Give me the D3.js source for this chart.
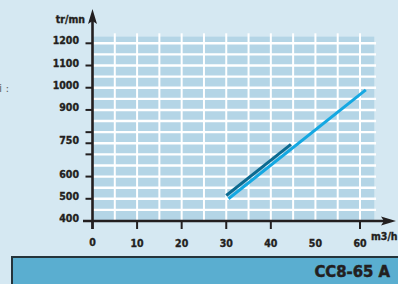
<!DOCTYPE html>
<html>
<head>
<meta charset="utf-8">
<script src="https://cdn.jsdelivr.net/npm/d3@7"></script>
<style>
    body { margin: 0; background: #d5e8f2; }
    svg { display: block; }
    .lbl { font-family: "DejaVu Sans Condensed", "DejaVu Sans", sans-serif; font-weight: bold; fill: #231f20; stroke: #231f20; stroke-width: 0.35; }
</style>
</head>
<body>
<svg id="chart" width="398" height="284"></svg>
<script>
// chart data
var xLabels = [0, 10, 20, 30, 40, 50, 60];
var xTickMarks = [0, 10, 20, 30, 40, 60];
var yLabels = [400, 500, 600, 750, 900, 1000, 1100, 1200];
var yTickMarks = [500, 600, 700, 750, 800, 900, 1000, 1100, 1200];
var gridX = [5, 10, 15, 20, 25, 30, 35, 40, 45, 50, 55, 60];
var gridY = [450, 500, 550, 600, 650, 700, 750, 800, 850, 900, 950, 1000, 1050, 1100, 1150, 1200];
var darkFlow = [30, 44.5];
var darkSpeed = [515, 745];
var lightFlow = [30.5, 61.3];
var lightSpeed = [500, 990];

(function () {
    var svg = d3.select('#chart');
    var ink = '#231f20';

    var x = d3.scaleLinear().domain([0, 60]).range([92.5, 360]);
    var y = d3.scaleLinear().domain([400, 1200]).range([221, 43.3]);

    // background panel of the grid
    svg.append('rect')
        .attr('x', x(0))
        .attr('y', y(1230))
        .attr('width', x(63.2) - x(0))
        .attr('height', y(400) - y(1230))
        .attr('fill', '#b4d5e6');

    // white grid
    svg.append('g').selectAll('line')
        .data(gridY)
        .enter().append('line')
        .attr('x1', x(0)).attr('x2', x(63.6))
        .attr('y1', function (d) { return y(d); })
        .attr('y2', function (d) { return y(d); })
        .attr('stroke', '#fff').attr('stroke-width', 2.4);

    svg.append('g').selectAll('line')
        .data(gridX)
        .enter().append('line')
        .attr('x1', function (d) { return x(d); })
        .attr('x2', function (d) { return x(d); })
        .attr('y1', y(1245)).attr('y2', y(400))
        .attr('stroke', '#fff').attr('stroke-width', 2);

    // curves
    var line = d3.line()
        .x(function (d) { return x(d[0]); })
        .y(function (d) { return y(d[1]); });

    svg.append('path')
        .datum(d3.zip(darkFlow, darkSpeed))
        .attr('d', line)
        .attr('fill', 'none').attr('stroke', '#0c6a90').attr('stroke-width', 3);

    svg.append('path')
        .datum(d3.zip(lightFlow, lightSpeed))
        .attr('d', line)
        .attr('fill', 'none').attr('stroke', '#14a8e2').attr('stroke-width', 3);

    // axes
    svg.append('line')
        .attr('x1', x(0)).attr('x2', x(0))
        .attr('y1', 20).attr('y2', y(400) + 8)
        .attr('stroke', ink).attr('stroke-width', 2.6);
    svg.append('path')
        .attr('d', 'M' + x(0) + ',9 L' + (x(0) + 4.5) + ',24 L' + x(0) + ',21 L' + (x(0) - 4.5) + ',24 Z')
        .attr('fill', ink);

    svg.append('line')
        .attr('x1', 83).attr('x2', 386)
        .attr('y1', y(400)).attr('y2', y(400))
        .attr('stroke', ink).attr('stroke-width', 2.6);
    svg.append('path')
        .attr('d', 'M396,' + y(400) + ' L381,' + (y(400) - 4.5) + ' L384,' + y(400) + ' L381,' + (y(400) + 4.5) + ' Z')
        .attr('fill', ink);

    svg.append('g').selectAll('line')
        .data(yTickMarks)
        .enter().append('line')
        .attr('x1', x(0) - 7).attr('x2', x(0))
        .attr('y1', function (d) { return y(d); })
        .attr('y2', function (d) { return y(d); })
        .attr('stroke', ink).attr('stroke-width', 2);

    svg.append('g').selectAll('line')
        .data(xTickMarks)
        .enter().append('line')
        .attr('x1', function (d) { return x(d); })
        .attr('x2', function (d) { return x(d); })
        .attr('y1', y(400)).attr('y2', y(400) + 8)
        .attr('stroke', ink).attr('stroke-width', 2);

    svg.append('g').selectAll('text')
        .data(yLabels)
        .enter().append('text')
        .classed('lbl', true)
        .attr('x', 79)
        .attr('y', function (d) { return y(d) + 1; })
        .attr('text-anchor', 'end')
        .attr('font-size', 10.5)
        .text(function (d) { return d; });

    svg.append('g').selectAll('text')
        .data(xLabels)
        .enter().append('text')
        .classed('lbl', true)
        .attr('x', function (d) { return x(d); })
        .attr('y', function (d) { return d === 0 ? 245.5 : 247; })
        .attr('text-anchor', 'middle')
        .attr('font-size', 10.5)
        .text(function (d) { return d; });

    svg.append('text').classed('lbl', true)
        .attr('x', 85).attr('y', 23)
        .attr('text-anchor', 'end')
        .attr('font-size', 10.5)
        .text('tr/mn');

    svg.append('text').classed('lbl', true)
        .attr('x', 371).attr('y', 239.5)
        .attr('font-size', 10.5)
        .text('m3/h');

    svg.append('text')
        .attr('x', -1).attr('y', 92)
        .attr('font-family', 'DejaVu Sans, sans-serif')
        .attr('font-size', 11)
        .attr('fill', '#666')
        .text('i :');

    // model banner
    svg.append('rect')
        .attr('x', 12).attr('y', 257)
        .attr('width', 400).attr('height', 40)
        .attr('fill', '#5aaed0')
        .attr('stroke', '#24343b').attr('stroke-width', 2);

    svg.append('text').classed('lbl', true)
        .attr('x', 390).attr('y', 277)
        .attr('text-anchor', 'end')
        .attr('font-size', 16.5)
        .style('stroke-width', 0.5)
        .text('CC8-65 A');
})();
</script>
</body>
</html>
